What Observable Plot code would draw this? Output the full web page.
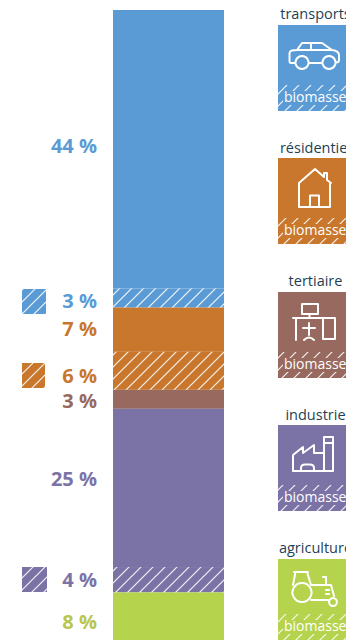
<!DOCTYPE html>
<html lang="fr">
<head>
<meta charset="utf-8">
<script src="https://cdn.jsdelivr.net/npm/d3@7"></script>
<script src="https://cdn.jsdelivr.net/npm/@observablehq/plot@0.6"></script>
<style>
html,body{margin:0;padding:0;background:#fff;overflow:hidden}
svg{display:block}
</style>
</head>
<body>
<div id="chart"></div>
<script>
// Data
const segmentSector = ["transports","transports","résidentiel","résidentiel","tertiaire","industrie","industrie","agriculture"];
const segmentValues = [44,3,7,6,3,25,4,8];
const segmentBiomass = [false,true,false,true,false,false,true,false];
const sectors = ["transports","résidentiel","tertiaire","industrie","agriculture"];
const sectorColors = ["#5b9bd5","#c8772d","#98695e","#7b73a6","#b5d34c"];
const labelColors = ["#5b9bd5","#c8772d","#98695e","#7b73a6","#b9c64e"];
const biomassLabel = "biomasse";

// Layout (pixels)
const labelY = [146,301,329,376,401,479,580,622];
const swatchBox = [null,[22,46,289,314],null,[22,45,363,388],null,null,[22,47,567,592],null];
const cardTop = [25,158,292,425,559];
const cardBottom = [111,244,378,511,640];
const titleY = [14,148,281,415,548];
const icons = [
  // car
  "M295 63H291Q289.5 63 289.5 61V54Q289.5 51 292 50.5L297 50L302 43H322L332 50Q339 51 339 55V60Q339 62.5 336 62.5M309.5 63H321.5M297 50H332M311 43V50M302 56a6.5 6.5 0 1 0 .01 0M329 56a6.5 6.5 0 1 0 .01 0",
  // house
  "M299 183L315 169L324 177V173H327V180L331 183M299 183V207H330V183M310 207V195.5H319V207",
  // desk
  "M302 304H318V314H302ZM309.5 314V318M293 318H335M296 318V340M323 318H335V339H323ZM309 323V335M303 328H315M304 340Q309 335 314 340",
  // factory
  "M324 471V437H333V471H293V455L303 447V453L314 445V453H324M324 443H333M301 471V468Q301 464.5 305 464.5H310Q314 464.5 314 468V471",
  // tractor
  "M294 572H308M295.5 572L293 585M307 572L311 585H331L334 596M311 600H328M323 577H326V585M326 590H329M326 594H329M302 583a9.5 9.5 0 1 0 .01 0M333 598a4 4 0 1 0 .01 0"
];

const cum = d3.cumsum(segmentValues);
const segments = segmentValues.map((v,i)=>({
  sector:segmentSector[i], value:v, biomass:segmentBiomass[i],
  y1:cum[i]-v, y2:cum[i],
  color:sectorColors[sectors.indexOf(segmentSector[i])],
  labelColor:labelColors[sectors.indexOf(segmentSector[i])],
  labelPx:labelY[i], box:swatchBox[i]
}));
const hatched = segments.filter(d=>d.biomass);
const cards = sectors.map((s,i)=>({sector:s,color:sectorColors[i],top:cardTop[i],bottom:cardBottom[i],title:titleY[i],icon:icons[i]}));

const px = f => ({value:f, scale:null});
const fontFamily = '"Open Sans", sans-serif';

const defs = () => {
  const g = d3.create("svg:defs");
  const p = g.append("pattern").attr("id","hatch").attr("patternUnits","userSpaceOnUse")
    .attr("width",12).attr("height",12);
  p.append("path").attr("d","M-2 14L14 -2M-8 8L8 -8M4 20L20 4").attr("stroke","#fff").attr("stroke-opacity",.9).attr("stroke-width",1.2).attr("fill","none");
  return g.node();
};
const iconMark = () => {
  const g = d3.create("svg:g").attr("fill","none").attr("stroke","#fff").attr("stroke-width",2).attr("stroke-linejoin","round").attr("stroke-linecap","round");
  cards.forEach(c=>g.append("path").attr("d",c.icon));
  return g.node();
};

const plot = Plot.plot({
  width:346, height:640, margin:0,
  style:{fontFamily, background:"#fff"},
  x:{domain:[0,346], range:[0,346], axis:null},
  y:{domain:[0,100], range:[10,643], axis:null},
  marks:[
    defs,
    // stacked bar
    Plot.rect(segments,{x1:()=>113,x2:()=>224,y1:"y1",y2:"y2",fill:d=>d.color}),
    Plot.rect(hatched,{x1:()=>113,x2:()=>225,y1:"y1",y2:"y2",fill:"url(#hatch)"}),
    // biomass swatches
    Plot.rect(hatched,{x1:px(d=>d.box[0]),x2:px(d=>d.box[1]),y1:px(d=>d.box[2]),y2:px(d=>d.box[3]),fill:d=>d.color}),
    Plot.rect(hatched,{x1:px(d=>d.box[0]),x2:px(d=>d.box[1]),y1:px(d=>d.box[2]),y2:px(d=>d.box[3]),fill:"url(#hatch)"}),
    // percentages
    Plot.text(segments,{x:()=>96.5,y:px(d=>d.labelPx),text:d=>`${d.value} %`,fill:d=>d.labelColor,textAnchor:"end",fontSize:20,fontWeight:700}),
    // sector cards
    Plot.rect(cards,{x1:()=>278,x2:()=>346,y1:px(d=>d.top),y2:px(d=>d.bottom),fill:d=>d.color}),
    Plot.rect(cards,{x1:()=>278,x2:()=>346,y1:px(d=>d.bottom-26),y2:px(d=>d.bottom),fill:"url(#hatch)"}),
    Plot.rect(cards,{x1:()=>283,x2:()=>346,y1:px(d=>d.bottom-20),y2:px(d=>d.bottom-6),fill:d=>d.color}),
    Plot.text(cards,{x:()=>315,y:px(d=>d.title),text:"sector",fill:"#1f3f54",fontSize:14.5}),
    Plot.text(cards,{x:()=>283.5,y:px(d=>d.bottom-13.5),text:()=>biomassLabel,fill:"#fff",textAnchor:"start",fontSize:14}),
    iconMark
  ]
});
document.getElementById("chart").append(plot);
</script>
</body>
</html>
